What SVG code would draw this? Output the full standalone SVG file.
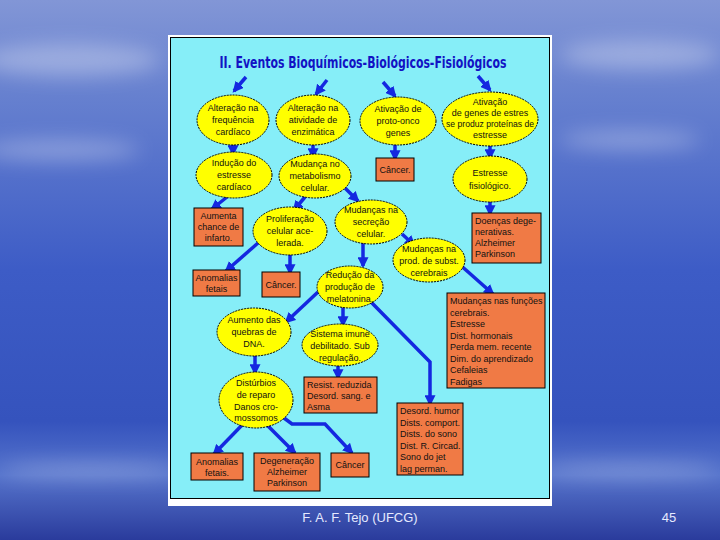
<svg xmlns="http://www.w3.org/2000/svg" width="720" height="540" viewBox="0 0 720 540">
<defs>
<linearGradient id="bg" x1="0" y1="0" x2="0" y2="1">
<stop offset="0" stop-color="#8296d6"/>
<stop offset="0.18" stop-color="#6680cf"/>
<stop offset="0.5" stop-color="#3d5cc6"/>
<stop offset="0.78" stop-color="#3553bd"/>
<stop offset="0.88" stop-color="#5674cc"/>
<stop offset="1" stop-color="#2a3b9c"/>
</linearGradient>
<filter id="blur" x="-50%" y="-50%" width="200%" height="200%"><feGaussianBlur stdDeviation="10"/></filter>
<marker id="ah" markerUnits="userSpaceOnUse" markerWidth="11" markerHeight="11" viewBox="0 0 10 10" refX="8" refY="5" orient="auto">
<path d="M0,0 L10,5 L0,10 z" fill="#1428e0"/>
</marker>
<style>
.el{fill:#ffff00;stroke:#000;stroke-width:1;stroke-dasharray:2 1}
.bx{fill:#f07a45;stroke:#000;stroke-width:1}
.t{font-family:"Liberation Sans",Arial,sans-serif;font-size:9px;fill:#111;text-anchor:middle}
.tl{font-family:"Liberation Sans",Arial,sans-serif;font-size:9px;fill:#111}
.ar{stroke:#1428e0;stroke-width:3.5;fill:none;marker-end:url(#ah)}
.ft{font-family:"Liberation Sans",Arial,sans-serif;font-size:13px;fill:#e6eaff}
</style>
</defs>
<rect x="0" y="0" width="720" height="540" fill="url(#bg)"/>
<g filter="url(#blur)" fill="#ffffff" opacity="0.3">
<ellipse cx="70" cy="60" rx="90" ry="16"/>
<ellipse cx="60" cy="150" rx="80" ry="10"/>
<ellipse cx="640" cy="55" rx="80" ry="14"/>
<ellipse cx="630" cy="140" rx="70" ry="9"/>
<ellipse cx="90" cy="470" rx="90" ry="6"/>
<ellipse cx="630" cy="470" rx="90" ry="6"/>
</g>
<rect x="168" y="35" width="384" height="471" fill="#ffffff"/>
<rect x="170.5" y="37.5" width="379" height="461" fill="#86eef8" stroke="#000" stroke-width="1"/>
<text x="363" y="68" text-anchor="middle" font-family="'DejaVu Sans Condensed','Liberation Sans Narrow',sans-serif" font-weight="bold" font-size="16" fill="#1212c4" textLength="287" lengthAdjust="spacingAndGlyphs">II. Eventos Bioquímicos-Biológicos-Fisiológicos</text>

<g id="connectors">
<line class="ar" x1="246" y1="77" x2="234" y2="91"/>
<line class="ar" x1="327" y1="80" x2="316" y2="94"/>
<line class="ar" x1="383" y1="82" x2="395" y2="96"/>
<line class="ar" x1="478" y1="76" x2="490" y2="90"/>
<line class="ar" x1="233" y1="144" x2="233" y2="154"/>
<line class="ar" x1="313" y1="144" x2="313" y2="157"/>
<line class="ar" x1="395" y1="145" x2="395" y2="159"/>
<line class="ar" x1="490" y1="146" x2="490" y2="158"/>
<line class="ar" x1="227" y1="197" x2="212" y2="209"/>
<line class="ar" x1="305" y1="197" x2="294" y2="210"/>
<line class="ar" x1="345" y1="188" x2="358" y2="201"/>
<line class="ar" x1="490" y1="202" x2="490" y2="214"/>
<line class="ar" x1="402" y1="234" x2="414" y2="245"/>
<line class="ar" x1="258" y1="243" x2="226" y2="271"/>
<line class="ar" x1="290" y1="254" x2="290" y2="273"/>
<line class="ar" x1="363" y1="243" x2="363" y2="266"/>
<line class="ar" x1="458" y1="263" x2="493" y2="294"/>
<line class="ar" x1="318" y1="292" x2="286" y2="322"/>
<line class="ar" x1="343" y1="307" x2="343" y2="325"/>
<polyline class="ar" points="371,302 430,362 430,404"/>
<line class="ar" x1="255" y1="355" x2="255" y2="373"/>
<line class="ar" x1="338" y1="365" x2="338" y2="378"/>
<line class="ar" x1="245" y1="422" x2="214" y2="454"/>
<line class="ar" x1="265" y1="423" x2="295" y2="453"/>
<polyline class="ar" points="284,418 292,424 325,424 352,453"/>
</g>

<g id="n1"><ellipse class="el" cx="233" cy="120" rx="36" ry="25"/>
<text class="t" x="233" y="111">Alteração na</text><text class="t" x="233" y="123">frequência</text><text class="t" x="233" y="135">cardíaco</text></g>
<g id="n2"><ellipse class="el" cx="313" cy="120" rx="37" ry="25"/>
<text class="t" x="313" y="111">Alteração na</text><text class="t" x="313" y="123">atividade de</text><text class="t" x="313" y="135">enzimática</text></g>
<g id="n3"><ellipse class="el" cx="398" cy="121" rx="38" ry="24"/>
<text class="t" x="398" y="112">Ativação de</text><text class="t" x="398" y="124">proto-onco</text><text class="t" x="398" y="136">genes</text></g>
<g id="n4"><ellipse class="el" cx="490" cy="119" rx="48" ry="27"/>
<text class="t" x="490" y="105">Ativação</text><text class="t" x="490" y="116">de genes de estres</text><text class="t" x="490" y="127" textLength="88" lengthAdjust="spacingAndGlyphs">se produz proteínas de</text><text class="t" x="490" y="138">estresse</text></g>
<g id="n5"><ellipse class="el" cx="234" cy="175" rx="38" ry="23"/>
<text class="t" x="234" y="166">Indução do</text><text class="t" x="234" y="178">estresse</text><text class="t" x="234" y="190">cardíaco</text></g>
<g id="n6"><ellipse class="el" cx="315" cy="176" rx="36" ry="22"/>
<text class="t" x="315" y="167">Mudança no</text><text class="t" x="315" y="179">metabolismo</text><text class="t" x="315" y="191">celular.</text></g>
<g id="n7"><rect class="bx" x="376" y="158" width="38" height="23"/>
<text class="t" x="395" y="173">Câncer.</text></g>
<g id="n8"><ellipse class="el" cx="490" cy="179" rx="37" ry="23"/>
<text class="t" x="490" y="176">Estresse</text><text class="t" x="490" y="189">fisiológico.</text></g>
<g id="n9"><rect class="bx" x="194" y="208" width="49" height="38"/>
<text class="t" x="218.5" y="219">Aumenta</text><text class="t" x="218.5" y="230">chance de</text><text class="t" x="218.5" y="241">infarto.</text></g>
<g id="n10"><ellipse class="el" cx="290" cy="231" rx="37" ry="24"/>
<text class="t" x="290" y="222">Proliferação</text><text class="t" x="290" y="234">celular ace-</text><text class="t" x="290" y="246">lerada.</text></g>
<g id="n11"><ellipse class="el" cx="371" cy="222" rx="36" ry="22"/>
<text class="t" x="371" y="213">Mudanças na</text><text class="t" x="371" y="225">secreção</text><text class="t" x="371" y="237">celular.</text></g>
<g id="n12"><rect class="bx" x="472" y="213" width="69" height="50"/>
<text class="tl" x="475" y="224">Doenças dege-</text><text class="tl" x="475" y="235">nerativas.</text><text class="tl" x="475" y="246">Alzheimer</text><text class="tl" x="475" y="257">Parkinson</text></g>
<g id="n13"><ellipse class="el" cx="429" cy="260" rx="36" ry="22"/>
<text class="t" x="429" y="252">Mudanças na</text><text class="t" x="429" y="264">prod. de subst.</text><text class="t" x="429" y="276">cerebrais</text></g>
<g id="n14"><rect class="bx" x="193" y="270" width="47" height="26"/>
<text class="t" x="216.5" y="281">Anomalias</text><text class="t" x="216.5" y="292">fetais</text></g>
<g id="n15"><rect class="bx" x="262" y="272" width="38" height="25"/>
<text class="t" x="281" y="288">Câncer.</text></g>
<g id="n16"><ellipse class="el" cx="350" cy="287" rx="33" ry="21"/>
<text class="t" x="350" y="278">Redução da</text><text class="t" x="350" y="290">produção de</text><text class="t" x="350" y="302">melatonina.</text></g>
<g id="n17"><rect class="bx" x="447" y="293" width="98" height="95"/>
<text class="tl" x="450" y="304">Mudanças nas funções</text><text class="tl" x="450" y="315.5">cerebrais.</text><text class="tl" x="450" y="327">Estresse</text><text class="tl" x="450" y="338.5">Dist. hormonais</text><text class="tl" x="450" y="350">Perda mem. recente</text><text class="tl" x="450" y="361.5">Dim. do aprendizado</text><text class="tl" x="450" y="373">Cefaleias</text><text class="tl" x="450" y="384.5">Fadigas</text></g>
<g id="n18"><ellipse class="el" cx="254" cy="332" rx="37" ry="24"/>
<text class="t" x="254" y="323">Aumento das</text><text class="t" x="254" y="335">quebras de</text><text class="t" x="254" y="347">DNA.</text></g>
<g id="n19"><ellipse class="el" cx="340" cy="345" rx="38" ry="21"/>
<text class="t" x="340" y="337">Sistema imune</text><text class="t" x="340" y="349">debilitado. Sub</text><text class="t" x="340" y="361">regulação.</text></g>
<g id="n20"><ellipse class="el" cx="256" cy="400" rx="37" ry="28"/>
<text class="t" x="256" y="386">Distúrbios</text><text class="t" x="256" y="398">de reparo</text><text class="t" x="256" y="410">Danos cro-</text><text class="t" x="256" y="421">mossomos</text></g>
<g id="n21"><rect class="bx" x="304" y="377" width="73" height="36"/>
<text class="tl" x="307" y="388">Resist. reduzida</text><text class="tl" x="307" y="399">Desord. sang. e</text><text class="tl" x="307" y="410">Asma</text></g>
<g id="n22"><rect class="bx" x="397" y="403" width="66" height="72"/>
<text class="tl" x="400" y="414">Desord. humor</text><text class="tl" x="400" y="425.5">Dists. comport.</text><text class="tl" x="400" y="437">Dists. do sono</text><text class="tl" x="400" y="448.5">Dist. R. Circad.</text><text class="tl" x="400" y="460">Sono do jet</text><text class="tl" x="400" y="471.5">lag perman.</text></g>
<g id="n23"><rect class="bx" x="191" y="453" width="52" height="27"/>
<text class="t" x="217" y="465">Anomalias</text><text class="t" x="217" y="476">fetais.</text></g>
<g id="n24"><rect class="bx" x="254" y="453" width="66" height="38"/>
<text class="t" x="287" y="464">Degeneração</text><text class="t" x="287" y="475">Alzheimer</text><text class="t" x="287" y="486">Parkinson</text></g>
<g id="n25"><rect class="bx" x="331" y="453" width="38" height="24"/>
<text class="t" x="350" y="468">Câncer</text></g>

<text class="ft" x="360" y="522" text-anchor="middle">F. A. F. Tejo (UFCG)</text>
<text class="ft" x="669" y="522" text-anchor="middle">45</text>
</svg>
